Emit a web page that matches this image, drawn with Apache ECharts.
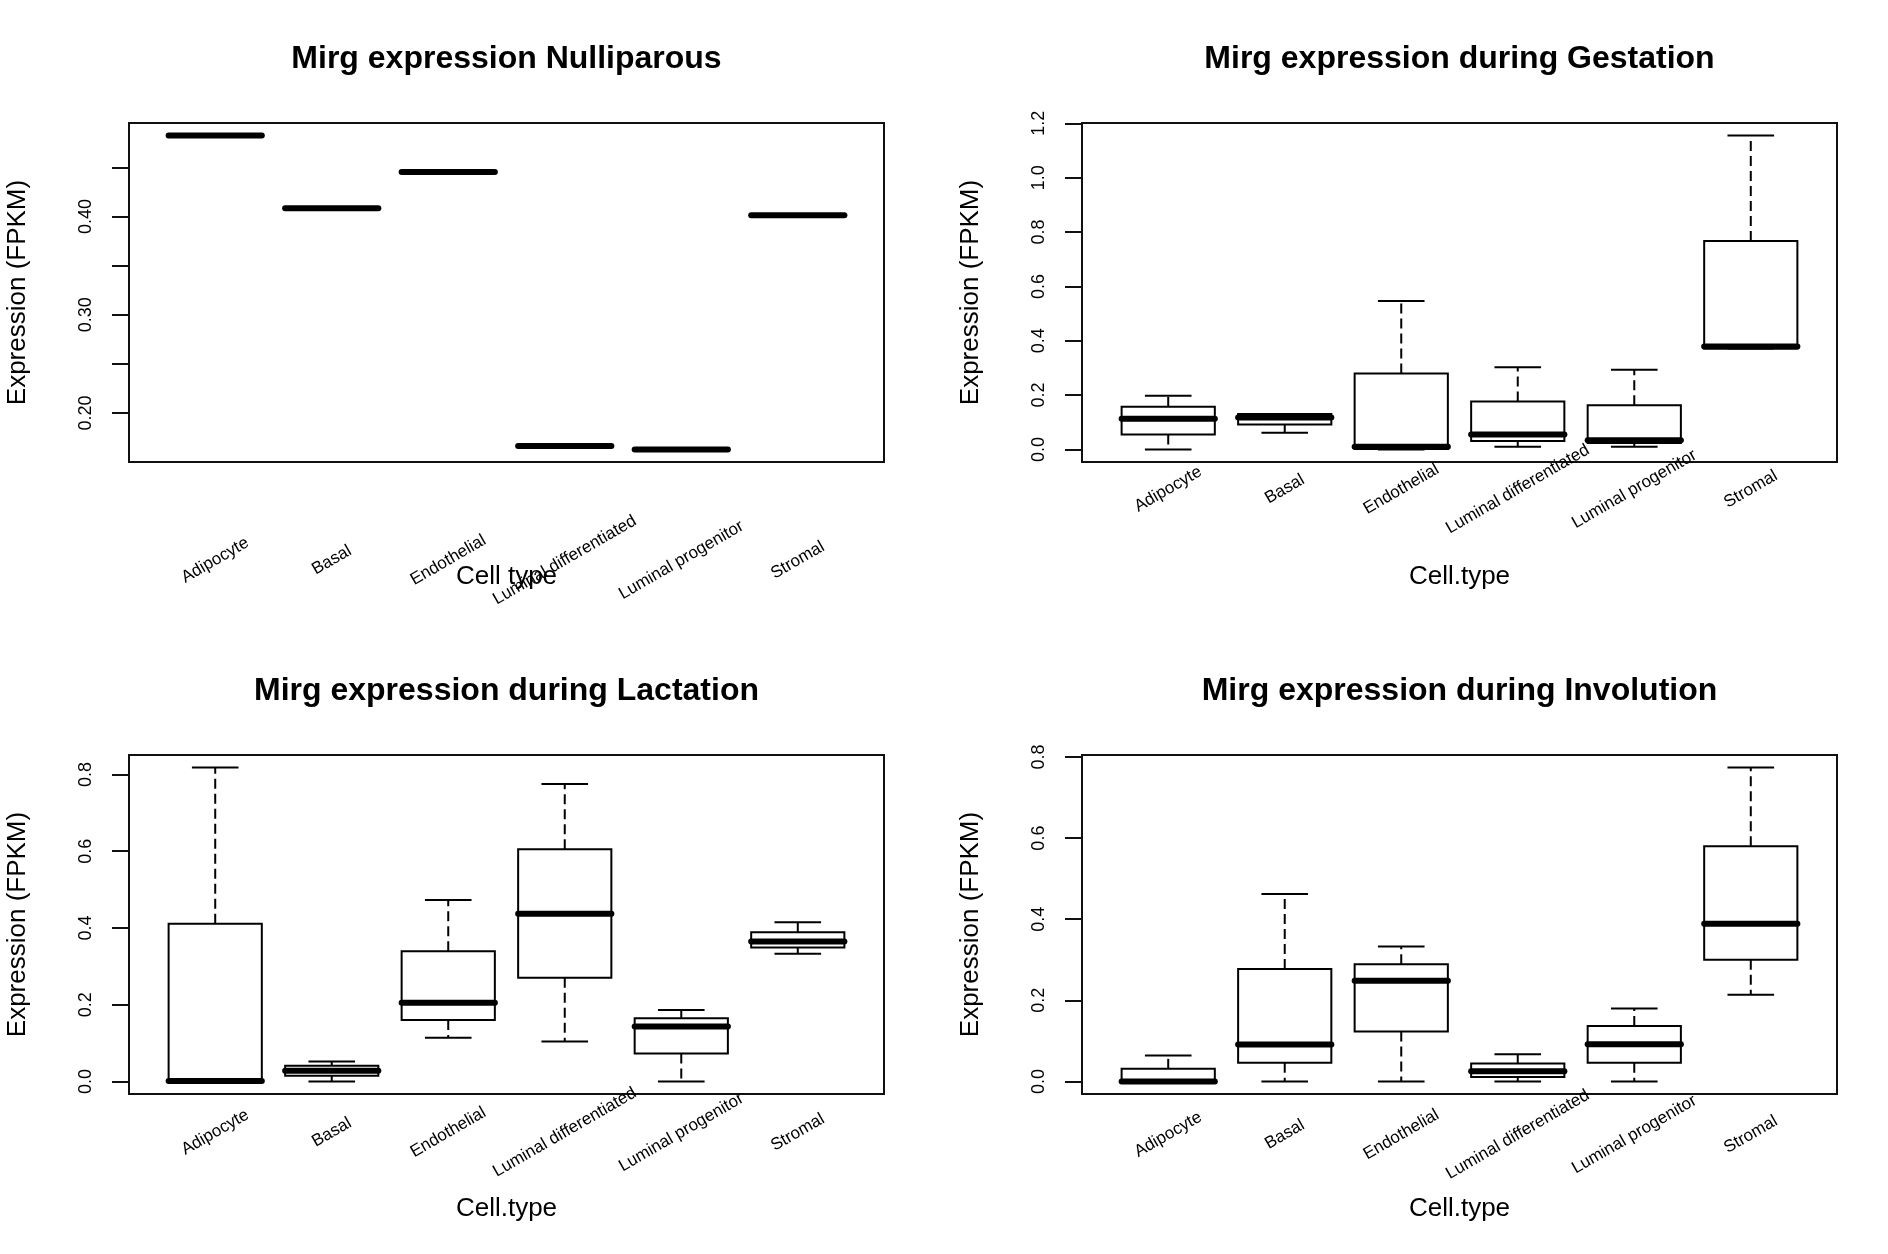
<!DOCTYPE html>
<html>
<head>
<meta charset="utf-8">
<script src="https://cdn.jsdelivr.net/npm/echarts@6/dist/echarts.min.js"></script>
<style>
  html, body { margin: 0; padding: 0; background: #fff; }
  #main { width: 1888px; height: 1254px; }
</style>
</head>
<body>
<div id="main"></div>
<script>
// cell types, same order in every panel
var cellTypes = ['Adipocyte', 'Basal', 'Endothelial', 'Luminal differentiated', 'Luminal progenitor', 'Stromal'];

// nulliparous: one sample per cell type
var nulliparous = [0.4825, 0.4084, 0.4453, 0.1662, 0.1628, 0.4013];

// [min, Q1, median, Q3, max] per cell type
var gestation = [
  [0.000, 0.055, 0.113, 0.157, 0.198],
  [0.061, 0.092, 0.118, 0.130, 0.130],
  [0.000, 0.002, 0.010, 0.279, 0.546],
  [0.010, 0.031, 0.055, 0.176, 0.302],
  [0.010, 0.024, 0.034, 0.163, 0.293],
  [0.371, 0.371, 0.379, 0.767, 1.155]
];
var lactation = [
  [0.000, 0.000, 0.001, 0.411, 0.818],
  [0.000, 0.015, 0.028, 0.041, 0.052],
  [0.114, 0.160, 0.205, 0.339, 0.473],
  [0.104, 0.270, 0.437, 0.605, 0.775],
  [0.000, 0.073, 0.143, 0.165, 0.186],
  [0.333, 0.349, 0.365, 0.389, 0.415]
];
var involution = [
  [0.000, 0.000, 0.000, 0.031, 0.064],
  [0.000, 0.046, 0.091, 0.277, 0.462],
  [0.000, 0.123, 0.248, 0.289, 0.333],
  [0.000, 0.011, 0.025, 0.044, 0.067],
  [0.000, 0.046, 0.092, 0.137, 0.180],
  [0.214, 0.300, 0.389, 0.580, 0.774]
];

// y tick marks and the ones that carry a label
var nullTicks = [0.20, 0.25, 0.30, 0.35, 0.40, 0.45];
var nullLabels = [0.20, 0.30, 0.40];
var gestTicks = [0.0, 0.2, 0.4, 0.6, 0.8, 1.0, 1.2];
var lacTicks = [0.0, 0.2, 0.4, 0.6, 0.8];
var invTicks = [0.0, 0.2, 0.4, 0.6, 0.8];

var titles = ['Mirg expression Nulliparous', 'Mirg expression during Gestation',
  'Mirg expression during Lactation', 'Mirg expression during Involution'];
var xNames = ['Cell type', 'Cell.type', 'Cell.type', 'Cell.type'];

// layout (px)
var GRID_W = 755, GRID_H = 339;
var LEFTS = [129, 1082, 129, 1082];
var TOPS = [123, 123, 755, 755];
var FONT = '"Liberation Sans", Arial, sans-serif';
var BOXWEX = 0.8;

var panels = [
  { stats: nulliparous.map(function (v) { return [v, v, v, v, v] }), ticks: nullTicks, labels: nullLabels, dec: 2 },
  { stats: gestation, ticks: gestTicks, labels: gestTicks, dec: 1 },
  { stats: lactation, ticks: lacTicks, labels: lacTicks, dec: 1 },
  { stats: involution, ticks: invTicks, labels: invTicks, dec: 1 }
];

function renderBox(params, api) {
  var x = api.value(0);
  var lo = api.coord([x, api.value(1)]);
  var q1 = api.coord([x, api.value(2)]);
  var md = api.coord([x, api.value(3)]);
  var q3 = api.coord([x, api.value(4)]);
  var hi = api.coord([x, api.value(5)]);
  var half = api.size([BOXWEX, 0])[0] / 2;
  var cap = half / 2;
  var cx = md[0];
  var solid = { stroke: '#000', lineWidth: 2 };
  var dashed = { stroke: '#000', lineWidth: 2, lineDash: [10, 5] };
  var kids = [];
  //whiskers
  if (hi[1] < q3[1]) kids.push({ type: 'line', shape: { x1: cx, y1: q3[1], x2: cx, y2: hi[1] }, style: dashed });
  if (lo[1] > q1[1]) kids.push({ type: 'line', shape: { x1: cx, y1: q1[1], x2: cx, y2: lo[1] }, style: dashed });
  kids.push({ type: 'line', shape: { x1: cx - cap, y1: hi[1], x2: cx + cap, y2: hi[1] }, style: solid });
  kids.push({ type: 'line', shape: { x1: cx - cap, y1: lo[1], x2: cx + cap, y2: lo[1] }, style: solid });
  //box
  kids.push({ type: 'rect', shape: { x: cx - half, y: q3[1], width: half * 2, height: q1[1] - q3[1] },
    style: { fill: 'none', stroke: '#000', lineWidth: 2 } });
  //median
  kids.push({ type: 'line', shape: { x1: cx - half, y1: md[1], x2: cx + half, y2: md[1] },
    style: { stroke: '#000', lineWidth: 6, lineCap: 'round' } });
  return { type: 'group', children: kids };
}

var grids = [], xAxes = [], yAxes = [], series = [], graphics = [];

panels.forEach(function (p, i) {
  // R style range: data range plus 4% each side
  var all = [].concat.apply([], p.stats);
  var lo = Math.min.apply(null, all), hi = Math.max.apply(null, all);
  var ext = (hi - lo) * 0.04;
  var ymin = lo - ext, ymax = hi + ext;
  var pxPerUnit = GRID_H / (ymax - ymin);

  grids.push({
    left: LEFTS[i], top: TOPS[i], width: GRID_W, height: GRID_H,
    show: true, borderColor: '#111', borderWidth: 2, backgroundColor: 'transparent',
    containLabel: false, outerBoundsMode: 'none'
  });
  xAxes.push({
    type: 'value', gridIndex: i, min: 0.5 - 0.24, max: 6.5 + 0.24,
    axisLine: { show: false }, axisTick: { show: false }, splitLine: { show: false },
    axisLabel: {
      customValues: [1, 2, 3, 4, 5, 6],
      formatter: function (v) { return cellTypes[Math.round(v) - 1] },
      rotate: 30, align: 'center', verticalAlign: 'middle',
      margin: 0.1 * pxPerUnit,
      fontFamily: FONT, fontSize: 17, color: '#000'
    },
    name: xNames[i], nameLocation: 'middle', nameGap: 102, nameMoveOverlap: false,
    nameTextStyle: { fontFamily: FONT, fontSize: 26, color: '#000' }
  });
  yAxes.push({
    type: 'value', gridIndex: i, min: ymin, max: ymax,
    axisLine: { show: false }, splitLine: { show: false },
    axisTick: { show: true, customValues: p.ticks, length: 17, lineStyle: { color: '#111', width: 2 } },
    axisLabel: {
      customValues: p.labels, rotate: 90, margin: 34,
      formatter: (function (d) { return function (v) { return v.toFixed(d) } })(p.dec),
      fontFamily: FONT, fontSize: 18, color: '#000'
    },
    name: 'Expression (FPKM)', nameLocation: 'middle', nameGap: 98, nameMoveOverlap: false,
    nameTextStyle: { fontFamily: FONT, fontSize: 26, color: '#000' }
  });
  series.push({
    type: 'custom', xAxisIndex: i, yAxisIndex: i,
    renderItem: renderBox,
    data: p.stats.map(function (s, k) { return [k + 1].concat(s) }),
    silent: true
  });
  graphics.push({
    type: 'text', x: LEFTS[i] + GRID_W / 2, y: TOPS[i] - 64,
    style: { text: titles[i], align: 'center', verticalAlign: 'middle',
      font: 'bold 32px ' + FONT, fill: '#000' }
  });
});

var chart = echarts.init(document.getElementById('main'), null, { renderer: 'canvas' });
chart.setOption({
  backgroundColor: '#fff',
  animation: false,
  grid: grids,
  xAxis: xAxes,
  yAxis: yAxes,
  series: series,
  graphic: graphics
});
</script>
</body>
</html>
